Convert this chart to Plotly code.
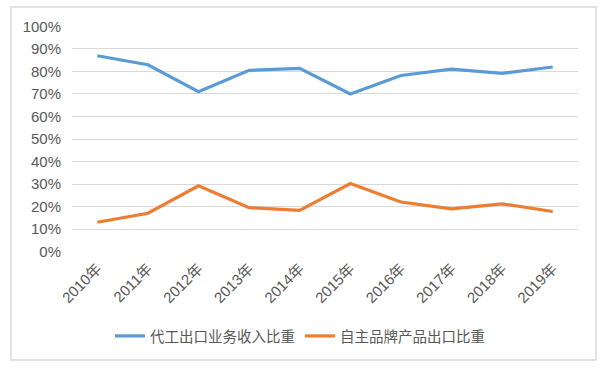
import plotly.graph_objects as go

years = ["2010年", "2011年", "2012年", "2013年", "2014年", "2015年", "2016年", "2017年", "2018年", "2019年"]
oem_share = [0.87, 0.83, 0.71, 0.805, 0.814, 0.70, 0.782, 0.81, 0.792, 0.82]
brand_share = [0.13, 0.17, 0.292, 0.195, 0.183, 0.302, 0.22, 0.19, 0.212, 0.178]
series_names = ["代工出口业务收入比重", "自主品牌产品出口比重"]
y_ticks = [0, 0.1, 0.2, 0.3, 0.4, 0.5, 0.6, 0.7, 0.8, 0.9, 1.0]

FONT = "Liberation Sans, Noto Sans CJK SC, sans-serif"

fig = go.Figure()
fig.add_trace(go.Scatter(x=years, y=oem_share, mode="lines", name=series_names[0],
                         line=dict(color="#5B9BD5", width=3.2)))
fig.add_trace(go.Scatter(x=years, y=brand_share, mode="lines", name=series_names[1],
                         line=dict(color="#ED7D31", width=3.2)))

L, R, T, B = 72, 25, 26, 116
W, H = 603, 368
pw, ph = W - L - R, H - T - B

def px2x(px):
    return (px - L) / pw

def py2y(py):
    return (H - B - py) / ph

fig.update_layout(
    width=W, height=H,
    margin=dict(l=L, r=R, t=T, b=B, pad=0, autoexpand=False),
    paper_bgcolor="white", plot_bgcolor="white",
    font=dict(family=FONT, size=13, color="#595959"),
    showlegend=True,
    legend=dict(orientation="h", x=px2x(300), xanchor="center", y=py2y(336), yanchor="middle",
                font=dict(size=14.5, color="#595959"), bgcolor="rgba(0,0,0,0)"),
    xaxis=dict(type="category", range=[-0.5, 9.5], tickangle=-45, showgrid=False,
               showline=False, ticks="", automargin=False, ticklabelstandoff=4,
               tickfont=dict(size=15, color="#595959")),
    yaxis=dict(range=[-0.002, 1.002], tickvals=y_ticks, tickformat=".0%", showgrid=True,
               gridcolor="#D9D9D9", gridwidth=1, zeroline=False, showline=False,
               ticks="", automargin=False, ticklabelstandoff=10,
               tickfont=dict(size=15, color="#595959")),
    shapes=[dict(type="rect", xref="paper", yref="paper",
                 x0=px2x(11), x1=px2x(596), y0=py2y(360), y1=py2y(7),
                 line=dict(color="#D9D9D9", width=1.5), fillcolor="rgba(0,0,0,0)", layer="below")],
)

fig.write_html("out.html", config={"displayModeBar": False},
               post_script="document.body.style.margin='0';document.body.style.overflow='hidden';")
